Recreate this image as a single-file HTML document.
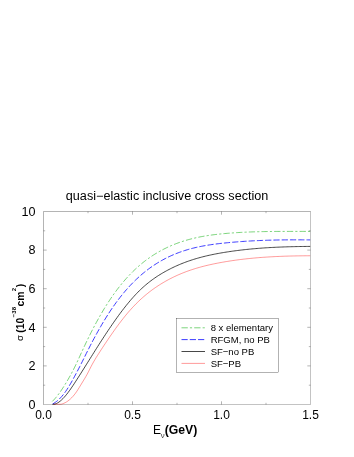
<!DOCTYPE html>
<html><head><meta charset="utf-8"><style>
html,body{margin:0;padding:0;background:#fff;}
body{width:354px;height:457px;overflow:hidden;}
svg{display:block;will-change:transform;font-family:"Liberation Sans",sans-serif;}
</style></head><body>
<svg width="354" height="457" viewBox="0 0 354 457">
<rect width="354" height="457" fill="#fff"/>
<text x="65.8" y="200.4" font-size="12" textLength="202.6" lengthAdjust="spacingAndGlyphs" fill="#000">quasi−elastic inclusive cross section</text>
<g fill="none" stroke-linejoin="round">
<path d="M52.30,401.41 L53.60,400.12 L54.89,398.71 L56.19,397.20 L57.48,395.58 L58.78,393.88 L60.08,392.08 L61.37,390.21 L62.67,388.26 L63.96,386.24 L65.26,384.16 L66.56,382.03 L67.85,379.84 L69.15,377.58 L70.44,375.26 L71.74,372.86 L73.04,370.39 L74.33,367.84 L75.63,365.21 L76.92,362.50 L78.22,359.71 L79.52,356.88 L80.81,354.03 L82.11,351.19 L83.40,348.37 L84.70,345.59 L86.00,342.85 L87.29,340.15 L88.59,337.49 L89.88,334.86 L91.18,332.28 L92.48,329.75 L93.77,327.25 L95.07,324.80 L96.36,322.39 L97.66,320.03 L98.96,317.70 L100.25,315.42 L101.55,313.19 L102.84,310.99 L104.14,308.84 L105.44,306.73 L106.73,304.67 L108.03,302.64 L109.32,300.66 L110.62,298.72 L111.92,296.83 L113.21,294.97 L114.51,293.16 L115.80,291.39 L117.10,289.65 L118.39,287.96 L119.69,286.31 L120.99,284.69 L122.28,283.11 L123.58,281.57 L124.87,280.07 L126.17,278.60 L127.47,277.17 L128.76,275.77 L130.06,274.40 L131.35,273.07 L132.65,271.78 L133.95,270.51 L135.24,269.28 L136.54,268.08 L137.83,266.91 L139.13,265.77 L140.43,264.66 L141.72,263.58 L143.02,262.53 L144.31,261.51 L145.61,260.51 L146.91,259.55 L148.20,258.60 L149.50,257.69 L150.79,256.80 L152.09,255.93 L153.39,255.09 L154.68,254.27 L155.98,253.47 L157.27,252.70 L158.57,251.95 L159.87,251.22 L161.16,250.51 L162.46,249.82 L163.75,249.15 L165.05,248.50 L166.35,247.87 L167.64,247.26 L168.94,246.66 L170.23,246.08 L171.53,245.52 L172.83,244.98 L174.12,244.45 L175.42,243.94 L176.71,243.44 L178.01,242.96 L179.31,242.50 L180.60,242.05 L181.90,241.62 L183.19,241.20 L184.49,240.79 L185.79,240.40 L187.08,240.02 L188.38,239.66 L189.67,239.31 L190.97,238.97 L192.27,238.64 L193.56,238.33 L194.86,238.02 L196.15,237.73 L197.45,237.45 L198.75,237.18 L200.04,236.92 L201.34,236.67 L202.63,236.43 L203.93,236.20 L205.23,235.98 L206.52,235.77 L207.82,235.57 L209.11,235.37 L210.41,235.19 L211.71,235.01 L213.00,234.84 L214.30,234.67 L215.59,234.51 L216.89,234.36 L218.19,234.22 L219.48,234.08 L220.78,233.94 L222.07,233.81 L223.37,233.69 L224.67,233.57 L225.96,233.45 L227.26,233.34 L228.55,233.24 L229.85,233.13 L231.15,233.03 L232.44,232.94 L233.74,232.85 L235.03,232.76 L236.33,232.67 L237.63,232.59 L238.92,232.52 L240.22,232.44 L241.51,232.37 L242.81,232.30 L244.11,232.24 L245.40,232.18 L246.70,232.12 L247.99,232.07 L249.29,232.01 L250.58,231.96 L251.88,231.92 L253.18,231.87 L254.47,231.83 L255.77,231.79 L257.06,231.75 L258.36,231.72 L259.66,231.69 L260.95,231.66 L262.25,231.63 L263.54,231.60 L264.84,231.58 L266.14,231.56 L267.43,231.54 L268.73,231.52 L270.02,231.50 L271.32,231.49 L272.62,231.47 L273.91,231.46 L275.21,231.45 L276.50,231.44 L277.80,231.43 L279.10,231.43 L280.39,231.42 L281.69,231.41 L282.98,231.41 L284.28,231.41 L285.58,231.40 L286.87,231.40 L288.17,231.40 L289.46,231.40 L290.76,231.40 L292.06,231.40 L293.35,231.40 L294.65,231.40 L295.94,231.40 L297.24,231.40 L298.54,231.40 L299.83,231.40 L301.13,231.40 L302.42,231.40 L303.72,231.40 L305.02,231.40 L306.31,231.40 L307.61,231.40 L308.90,231.40 L310.20,231.40" stroke="#00ac00" stroke-width="0.52" stroke-dasharray="6.3 2.1 2.2 2.1"/>
<path d="M52.70,403.97 L53.99,403.23 L55.29,402.37 L56.58,401.42 L57.88,400.35 L59.17,399.16 L60.46,397.86 L61.76,396.45 L63.05,394.91 L64.35,393.24 L65.64,391.45 L66.93,389.54 L68.23,387.52 L69.52,385.40 L70.82,383.20 L72.11,380.92 L73.40,378.59 L74.70,376.20 L75.99,373.77 L77.29,371.32 L78.58,368.84 L79.87,366.33 L81.17,363.79 L82.46,361.22 L83.76,358.62 L85.05,356.02 L86.34,353.41 L87.64,350.83 L88.93,348.27 L90.23,345.74 L91.52,343.24 L92.81,340.78 L94.11,338.35 L95.40,335.95 L96.69,333.59 L97.99,331.26 L99.28,328.96 L100.58,326.71 L101.87,324.48 L103.16,322.30 L104.46,320.15 L105.75,318.05 L107.05,315.98 L108.34,313.95 L109.63,311.96 L110.93,310.01 L112.22,308.11 L113.52,306.24 L114.81,304.41 L116.10,302.62 L117.40,300.87 L118.69,299.16 L119.99,297.48 L121.28,295.85 L122.57,294.24 L123.87,292.68 L125.16,291.15 L126.46,289.65 L127.75,288.19 L129.04,286.77 L130.34,285.37 L131.63,284.01 L132.93,282.68 L134.22,281.39 L135.51,280.12 L136.81,278.89 L138.10,277.69 L139.40,276.51 L140.69,275.37 L141.98,274.25 L143.28,273.17 L144.57,272.11 L145.87,271.08 L147.16,270.07 L148.45,269.09 L149.75,268.14 L151.04,267.22 L152.34,266.31 L153.63,265.44 L154.92,264.58 L156.22,263.75 L157.51,262.95 L158.81,262.16 L160.10,261.40 L161.39,260.66 L162.69,259.94 L163.98,259.24 L165.28,258.56 L166.57,257.90 L167.86,257.26 L169.16,256.64 L170.45,256.04 L171.75,255.45 L173.04,254.89 L174.33,254.34 L175.63,253.81 L176.92,253.29 L178.22,252.80 L179.51,252.32 L180.80,251.85 L182.10,251.40 L183.39,250.97 L184.68,250.55 L185.98,250.15 L187.27,249.76 L188.57,249.38 L189.86,249.02 L191.15,248.67 L192.45,248.33 L193.74,248.00 L195.04,247.69 L196.33,247.39 L197.62,247.10 L198.92,246.82 L200.21,246.55 L201.51,246.30 L202.80,246.05 L204.09,245.81 L205.39,245.58 L206.68,245.36 L207.98,245.15 L209.27,244.94 L210.56,244.75 L211.86,244.56 L213.15,244.38 L214.45,244.20 L215.74,244.03 L217.03,243.87 L218.33,243.71 L219.62,243.56 L220.92,243.41 L222.21,243.27 L223.50,243.13 L224.80,243.00 L226.09,242.86 L227.39,242.74 L228.68,242.61 L229.97,242.49 L231.27,242.37 L232.56,242.26 L233.86,242.15 L235.15,242.04 L236.44,241.93 L237.74,241.83 L239.03,241.73 L240.33,241.63 L241.62,241.54 L242.91,241.45 L244.21,241.36 L245.50,241.28 L246.80,241.20 L248.09,241.12 L249.38,241.04 L250.68,240.97 L251.97,240.90 L253.27,240.83 L254.56,240.76 L255.85,240.70 L257.15,240.64 L258.44,240.58 L259.74,240.52 L261.03,240.47 L262.32,240.42 L263.62,240.37 L264.91,240.33 L266.21,240.28 L267.50,240.24 L268.79,240.20 L270.09,240.16 L271.38,240.13 L272.67,240.10 L273.97,240.07 L275.26,240.04 L276.56,240.01 L277.85,239.99 L279.14,239.96 L280.44,239.94 L281.73,239.92 L283.03,239.91 L284.32,239.89 L285.61,239.88 L286.91,239.87 L288.20,239.86 L289.50,239.85 L290.79,239.84 L292.08,239.84 L293.38,239.83 L294.67,239.83 L295.97,239.83 L297.26,239.83 L298.55,239.83 L299.85,239.84 L301.14,239.84 L302.44,239.85 L303.73,239.86 L305.02,239.87 L306.32,239.88 L307.61,239.89 L308.91,239.90 L310.20,239.91" stroke="#1010ff" stroke-width="0.82" stroke-dasharray="6.2 2.07"/>
<path d="M52.50,404.30 L53.79,404.30 L55.09,404.06 L56.38,403.56 L57.68,402.89 L58.97,402.06 L60.27,401.07 L61.56,399.95 L62.86,398.70 L64.15,397.32 L65.45,395.83 L66.74,394.25 L68.04,392.57 L69.33,390.82 L70.63,389.00 L71.92,387.12 L73.22,385.19 L74.51,383.22 L75.81,381.23 L77.10,379.22 L78.40,377.20 L79.69,375.17 L80.99,373.12 L82.28,371.07 L83.58,369.01 L84.87,366.95 L86.17,364.88 L87.46,362.81 L88.76,360.74 L90.05,358.67 L91.35,356.60 L92.64,354.53 L93.94,352.47 L95.23,350.41 L96.53,348.36 L97.82,346.32 L99.12,344.29 L100.41,342.27 L101.71,340.26 L103.00,338.26 L104.30,336.27 L105.59,334.30 L106.89,332.34 L108.18,330.40 L109.48,328.47 L110.77,326.57 L112.07,324.68 L113.36,322.80 L114.66,320.95 L115.95,319.13 L117.25,317.32 L118.54,315.53 L119.84,313.77 L121.13,312.04 L122.43,310.33 L123.72,308.64 L125.02,306.99 L126.31,305.36 L127.61,303.76 L128.90,302.19 L130.20,300.65 L131.49,299.15 L132.79,297.68 L134.08,296.24 L135.38,294.84 L136.67,293.47 L137.97,292.14 L139.26,290.84 L140.56,289.59 L141.85,288.37 L143.15,287.19 L144.44,286.04 L145.74,284.92 L147.03,283.84 L148.33,282.79 L149.62,281.77 L150.92,280.78 L152.21,279.82 L153.51,278.88 L154.80,277.98 L156.10,277.09 L157.39,276.24 L158.69,275.40 L159.98,274.59 L161.28,273.80 L162.57,273.03 L163.87,272.28 L165.16,271.55 L166.46,270.84 L167.75,270.14 L169.05,269.46 L170.34,268.80 L171.64,268.15 L172.93,267.52 L174.23,266.90 L175.52,266.30 L176.82,265.72 L178.11,265.15 L179.41,264.60 L180.70,264.06 L182.00,263.53 L183.29,263.02 L184.59,262.52 L185.88,262.04 L187.18,261.56 L188.47,261.10 L189.77,260.66 L191.06,260.22 L192.36,259.80 L193.65,259.39 L194.95,258.99 L196.24,258.61 L197.54,258.23 L198.83,257.86 L200.13,257.51 L201.42,257.16 L202.72,256.82 L204.01,256.50 L205.31,256.18 L206.60,255.87 L207.90,255.57 L209.19,255.28 L210.49,255.00 L211.78,254.72 L213.08,254.46 L214.37,254.20 L215.67,253.94 L216.96,253.70 L218.26,253.46 L219.55,253.22 L220.85,252.99 L222.14,252.77 L223.44,252.55 L224.73,252.34 L226.03,252.14 L227.32,251.93 L228.62,251.74 L229.91,251.54 L231.21,251.36 L232.50,251.17 L233.80,250.99 L235.09,250.82 L236.39,250.65 L237.68,250.48 L238.98,250.32 L240.27,250.16 L241.57,250.01 L242.86,249.86 L244.16,249.71 L245.45,249.57 L246.75,249.43 L248.04,249.30 L249.34,249.17 L250.63,249.05 L251.93,248.92 L253.22,248.80 L254.52,248.69 L255.81,248.58 L257.11,248.47 L258.40,248.37 L259.70,248.26 L260.99,248.17 L262.29,248.07 L263.58,247.98 L264.88,247.89 L266.17,247.81 L267.47,247.73 L268.76,247.65 L270.06,247.57 L271.35,247.50 L272.65,247.43 L273.94,247.36 L275.24,247.30 L276.53,247.24 L277.83,247.18 L279.12,247.12 L280.42,247.07 L281.71,247.02 L283.01,246.97 L284.30,246.92 L285.60,246.88 L286.89,246.83 L288.19,246.79 L289.48,246.76 L290.78,246.72 L292.07,246.69 L293.37,246.66 L294.66,246.63 L295.96,246.60 L297.25,246.57 L298.55,246.55 L299.84,246.53 L301.14,246.51 L302.43,246.49 L303.73,246.47 L305.02,246.46 L306.32,246.44 L307.61,246.43 L308.91,246.42 L310.20,246.41" stroke="#000" stroke-width="0.72"/>
<path d="M53.60,404.30 L54.89,404.30 L56.18,404.30 L57.47,404.30 L58.76,404.30 L60.05,404.30 L61.34,404.18 L62.63,403.78 L63.92,403.28 L65.21,402.67 L66.49,401.94 L67.78,401.10 L69.07,400.12 L70.36,399.02 L71.65,397.78 L72.94,396.40 L74.23,394.87 L75.52,393.18 L76.81,391.34 L78.10,389.35 L79.39,387.27 L80.68,385.14 L81.97,383.00 L83.26,380.89 L84.55,378.76 L85.84,376.58 L87.13,374.29 L88.42,371.84 L89.70,369.26 L90.99,366.70 L92.28,364.26 L93.57,361.94 L94.86,359.73 L96.15,357.59 L97.44,355.52 L98.73,353.50 L100.02,351.51 L101.31,349.52 L102.60,347.55 L103.89,345.60 L105.18,343.65 L106.47,341.72 L107.76,339.81 L109.05,337.91 L110.34,336.03 L111.63,334.16 L112.91,332.32 L114.20,330.50 L115.49,328.70 L116.78,326.92 L118.07,325.17 L119.36,323.44 L120.65,321.74 L121.94,320.07 L123.23,318.43 L124.52,316.81 L125.81,315.23 L127.10,313.67 L128.39,312.15 L129.68,310.67 L130.97,309.22 L132.26,307.80 L133.55,306.42 L134.84,305.07 L136.12,303.76 L137.41,302.48 L138.70,301.22 L139.99,300.00 L141.28,298.81 L142.57,297.66 L143.86,296.52 L145.15,295.42 L146.44,294.35 L147.73,293.30 L149.02,292.28 L150.31,291.28 L151.60,290.31 L152.89,289.37 L154.18,288.45 L155.47,287.55 L156.76,286.67 L158.05,285.82 L159.33,284.99 L160.62,284.18 L161.91,283.38 L163.20,282.61 L164.49,281.86 L165.78,281.12 L167.07,280.41 L168.36,279.71 L169.65,279.02 L170.94,278.36 L172.23,277.71 L173.52,277.08 L174.81,276.46 L176.10,275.86 L177.39,275.27 L178.68,274.70 L179.97,274.15 L181.26,273.61 L182.54,273.08 L183.83,272.57 L185.12,272.07 L186.41,271.59 L187.70,271.11 L188.99,270.66 L190.28,270.21 L191.57,269.77 L192.86,269.35 L194.15,268.94 L195.44,268.54 L196.73,268.15 L198.02,267.77 L199.31,267.41 L200.60,267.05 L201.89,266.70 L203.18,266.36 L204.47,266.03 L205.75,265.71 L207.04,265.40 L208.33,265.10 L209.62,264.80 L210.91,264.52 L212.20,264.24 L213.49,263.96 L214.78,263.70 L216.07,263.44 L217.36,263.18 L218.65,262.94 L219.94,262.70 L221.23,262.46 L222.52,262.23 L223.81,262.00 L225.10,261.78 L226.39,261.57 L227.68,261.36 L228.96,261.15 L230.25,260.95 L231.54,260.75 L232.83,260.56 L234.12,260.38 L235.41,260.20 L236.70,260.02 L237.99,259.85 L239.28,259.68 L240.57,259.51 L241.86,259.36 L243.15,259.20 L244.44,259.05 L245.73,258.91 L247.02,258.76 L248.31,258.63 L249.60,258.49 L250.89,258.36 L252.17,258.24 L253.46,258.12 L254.75,258.00 L256.04,257.88 L257.33,257.77 L258.62,257.67 L259.91,257.56 L261.20,257.46 L262.49,257.37 L263.78,257.28 L265.07,257.19 L266.36,257.10 L267.65,257.02 L268.94,256.94 L270.23,256.86 L271.52,256.79 L272.81,256.72 L274.10,256.65 L275.38,256.59 L276.67,256.53 L277.96,256.47 L279.25,256.41 L280.54,256.36 L281.83,256.31 L283.12,256.26 L284.41,256.21 L285.70,256.17 L286.99,256.13 L288.28,256.09 L289.57,256.06 L290.86,256.02 L292.15,255.99 L293.44,255.96 L294.73,255.94 L296.02,255.91 L297.31,255.89 L298.59,255.87 L299.88,255.85 L301.17,255.83 L302.46,255.81 L303.75,255.80 L305.04,255.79 L306.33,255.77 L307.62,255.77 L308.91,255.76 L310.20,255.75" stroke="#ff0000" stroke-width="0.4"/>
</g>
<g stroke="#000" stroke-width="0.3" fill="none">
<path d="M43.5,404.65 V211.5 H310.65"/><path d="M310.5,211.5 V404.5 H43.5" stroke-width="0.24"/>
<line x1="88.00" y1="404.5" x2="88.00" y2="402.8"/><line x1="88.00" y1="211.5" x2="88.00" y2="213.2"/><line x1="132.50" y1="404.5" x2="132.50" y2="401.3"/><line x1="132.50" y1="211.5" x2="132.50" y2="214.7"/><line x1="177.00" y1="404.5" x2="177.00" y2="402.8"/><line x1="177.00" y1="211.5" x2="177.00" y2="213.2"/><line x1="221.50" y1="404.5" x2="221.50" y2="401.3"/><line x1="221.50" y1="211.5" x2="221.50" y2="214.7"/><line x1="266.00" y1="404.5" x2="266.00" y2="402.8"/><line x1="266.00" y1="211.5" x2="266.00" y2="213.2"/><line x1="43.5" y1="385.20" x2="45.2" y2="385.20"/><line x1="310.5" y1="385.20" x2="308.8" y2="385.20"/><line x1="43.5" y1="365.90" x2="46.7" y2="365.90"/><line x1="310.5" y1="365.90" x2="307.3" y2="365.90"/><line x1="43.5" y1="346.60" x2="45.2" y2="346.60"/><line x1="310.5" y1="346.60" x2="308.8" y2="346.60"/><line x1="43.5" y1="327.30" x2="46.7" y2="327.30"/><line x1="310.5" y1="327.30" x2="307.3" y2="327.30"/><line x1="43.5" y1="308.00" x2="45.2" y2="308.00"/><line x1="310.5" y1="308.00" x2="308.8" y2="308.00"/><line x1="43.5" y1="288.70" x2="46.7" y2="288.70"/><line x1="310.5" y1="288.70" x2="307.3" y2="288.70"/><line x1="43.5" y1="269.40" x2="45.2" y2="269.40"/><line x1="310.5" y1="269.40" x2="308.8" y2="269.40"/><line x1="43.5" y1="250.10" x2="46.7" y2="250.10"/><line x1="310.5" y1="250.10" x2="307.3" y2="250.10"/><line x1="43.5" y1="230.80" x2="45.2" y2="230.80"/><line x1="310.5" y1="230.80" x2="308.8" y2="230.80"/>
</g>
<g font-size="12" fill="#000"><text x="43.50" y="419.3" text-anchor="middle">0.0</text><text x="132.50" y="419.3" text-anchor="middle">0.5</text><text x="221.50" y="419.3" text-anchor="middle">1.0</text><text x="310.50" y="419.3" text-anchor="middle">1.5</text></g><g font-size="12.6" fill="#000"><text x="35.6" y="408.80" text-anchor="end">0</text><text x="35.6" y="370.20" text-anchor="end">2</text><text x="35.6" y="331.60" text-anchor="end">4</text><text x="35.6" y="293.00" text-anchor="end">6</text><text x="35.6" y="254.40" text-anchor="end">8</text><text x="35.6" y="215.80" text-anchor="end">10</text></g>
<g>
<rect x="176.4" y="318.5" width="102.1" height="53.7" fill="#fff" stroke="#000" stroke-width="0.3"/>
<g fill="none">
<line x1="181.5" y1="327.8" x2="205" y2="327.8" stroke="#00ac00" stroke-width="0.52" stroke-dasharray="6.3 2.1 2.2 2.1"/>
<line x1="181.5" y1="339.6" x2="205" y2="339.6" stroke="#1010ff" stroke-width="0.82" stroke-dasharray="6.2 2.07"/>
<line x1="181.5" y1="351.5" x2="205" y2="351.5" stroke="#000" stroke-width="0.72"/>
<line x1="181.5" y1="363.4" x2="205" y2="363.4" stroke="#ff0000" stroke-width="0.4"/>
</g>
<g font-size="9.5" fill="#000">
<text x="210.7" y="331.2">8 x elementary</text>
<text x="210.7" y="343.1">RFGM, no PB</text>
<text x="210.7" y="355">SF−no PB</text>
<text x="210.7" y="366.9">SF−PB</text>
</g>
</g>
<g fill="#000"><text font-size="12" x="153" y="434.4">E</text><text font-size="7.8" x="160.7" y="438" fill="#333">ν</text><text font-size="12" font-weight="bold" x="164.7" y="434.4" textLength="32.6" lengthAdjust="spacingAndGlyphs">(GeV)</text></g>
<g fill="#000" transform="translate(23.6,0) rotate(-90)" font-size="10.4" font-weight="bold">
<text x="-340.9" y="-0.3" font-weight="normal" font-size="9.6">σ</text>
<text x="-332.8" y="0">(10</text>
<text x="-317.2" y="-7.7" font-size="6">−38</text>
<text x="-306.6" y="0">cm</text>
<text x="-291.3" y="-7.7" font-size="6">2</text>
<text x="-287.3" y="0">)</text>
</g>
</svg>
</body></html>
